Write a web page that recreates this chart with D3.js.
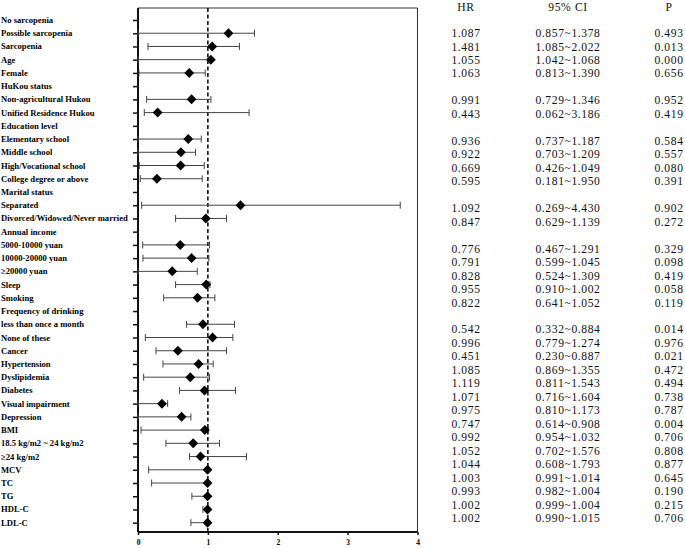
<!DOCTYPE html>
<html>
<head>
<meta charset="utf-8">
<script src="https://cdn.jsdelivr.net/npm/d3@7"></script>
<style>
  html, body { margin: 0; padding: 0; background: #fff; }
  svg { display: block; }
</style>
</head>
<body>
<svg id="chart" width="685" height="548"></svg>
<script>
// ---- Forest plot rows (as drawn) ----
const labels = [
  "No sarcopenia","Possible sarcopenia","Sarcopenia","Age","Female","HuKou status",
  "Non-agricultural Hukou","Unified Residence Hukou","Education level","Elementary school",
  "Middle school","High/Vocational school","College degree or above","Marital status",
  "Separated","Divorced/Widowed/Never married","Annual income","5000-10000 yuan",
  "10000-20000 yuan","≥20000 yuan","Sleep","Smoking","Frequency of drinking",
  "less than once a month","None of these","Cancer","Hypertension","Dyslipidemia",
  "Diabetes","Visual impairment","Depression","BMI","18.5 kg/m2 ~ 24 kg/m2","≥24 kg/m2",
  "MCV","TC","TG","HDL-C","LDL-C"
];
const pointEst = [
  null,1.295,1.062,1.043,0.733,null,
  0.767,0.281,null,0.719,
  0.614,0.610,0.271,null,
  1.467,0.971,null,0.605,
  0.767,0.490,0.976,0.852,null,
  0.929,1.067,0.571,0.867,0.748,
  0.952,0.343,0.624,0.957,0.790,0.895,
  0.995,0.995,0.995,0.995,0.995
];
const lowerCI = [
  null,0.0,0.143,0.0,0.014,null,
  0.124,0.090,null,0.0,
  0.0,0.019,0.033,null,
  0.052,0.538,null,0.067,
  0.071,0.0,0.538,0.367,null,
  0.695,0.105,0.257,0.357,0.081,
  0.595,0.0,0.0,0.043,0.400,0.738,
  0.152,0.195,0.771,0.929,0.757
];
const upperCI = [
  null,1.667,1.452,1.043,0.962,null,
  1.043,1.590,null,0.905,
  0.824,0.948,0.919,null,
  3.753,1.267,null,1.024,
  1.014,0.848,1.030,1.100,null,
  1.381,1.357,1.267,1.076,1.024,
  1.395,0.424,0.757,1.010,1.167,1.552,
  1.005,1.005,1.005,1.005,1.005
];
const xTicks = [0, 1, 2, 3, 4];
const refValue = 1;

// ---- Table on the right (blank lines = null) ----
const tableHeaders = ["HR", "95% CI", "P"];
const tabHR = [
  "1.087","1.481","1.055","1.063",null,"0.991","0.443",null,
  "0.936","0.922","0.669","0.595",null,"1.092","0.847",null,
  "0.776","0.791","0.828","0.955","0.822",null,
  "0.542","0.996","0.451","1.085","1.119","1.071","0.975","0.747",
  "0.992","1.052","1.044","1.003","0.993","1.002","1.002"
];
const tabCI = [
  "0.857~1.378","1.085~2.022","1.042~1.068","0.813~1.390",null,"0.729~1.346","0.062~3.186",null,
  "0.737~1.187","0.703~1.209","0.426~1.049","0.181~1.950",null,"0.269~4.430","0.629~1.139",null,
  "0.467~1.291","0.599~1.045","0.524~1.309","0.910~1.002","0.641~1.052",null,
  "0.332~0.884","0.779~1.274","0.230~0.887","0.869~1.355","0.811~1.543","0.716~1.604","0.810~1.173","0.614~0.908",
  "0.954~1.032","0.702~1.576","0.608~1.793","0.991~1.014","0.982~1.004","0.999~1.004","0.990~1.015"
];
const tabP = [
  "0.493","0.013","0.000","0.656",null,"0.952","0.419",null,
  "0.584","0.557","0.080","0.391",null,"0.902","0.272",null,
  "0.329","0.098","0.419","0.058","0.119",null,
  "0.014","0.976","0.021","0.472","0.494","0.738","0.787","0.004",
  "0.706","0.808","0.877","0.645","0.190","0.215","0.706"
];

// ---- Drawing ----
const svg = d3.select("#chart");
const plotLeft = 138, plotRight = 417.5, plotTop = 8, plotBottom = 532;

const x = d3.scaleLinear().domain([0, 4]).range([plotLeft, plotRight]);
const y = d3.scalePoint().domain(labels).range([20, 522.7]);

const rows = labels.map((l, i) => ({label: l, est: pointEst[i], lo: lowerCI[i], hi: upperCI[i]}));

// frame (top & right thin)
svg.append("path")
  .attr("d", `M${plotLeft},${plotTop}H${plotRight}V${plotBottom}`)
  .attr("fill", "none").attr("stroke", "#333").attr("stroke-width", 1);

// Y axis (left) with ticks
const yAxis = d3.axisLeft(y).tickSize(5).tickFormat("");
const gy = svg.append("g").attr("transform", `translate(${plotLeft},0)`).call(yAxis);
gy.select(".domain").attr("d", `M0,${plotTop}V${plotBottom}`).attr("stroke", "#111").attr("stroke-width", 2);
gy.selectAll(".tick line").attr("stroke", "#111").attr("stroke-width", 1.5);

// X axis
const xAxis = d3.axisBottom(x).tickValues(xTicks).tickSize(3).tickFormat(d3.format("d"));
const gx = svg.append("g").attr("transform", `translate(0,${plotBottom})`).call(xAxis);
gx.select(".domain").attr("d", `M${plotLeft},0H${plotRight}`).attr("stroke", "#111").attr("stroke-width", 2);
gx.selectAll(".tick line").attr("stroke", "#111").attr("stroke-width", 1.5);
gx.selectAll(".tick text")
  .attr("font-family", "'Liberation Serif', 'Times New Roman', serif")
  .attr("font-weight", "bold").attr("font-size", 7.5).attr("fill", "#000").attr("dy", "0.9em");

// Reference dashed line
svg.append("line")
  .attr("x1", x(refValue)).attr("x2", x(refValue))
  .attr("y1", plotTop).attr("y2", plotBottom)
  .attr("stroke", "#000").attr("stroke-width", 1.5).attr("stroke-dasharray", "4,2.5");

// Row labels
svg.append("g").selectAll("text").data(rows).join("text")
  .attr("x", 1).attr("y", d => y(d.label)).attr("dy", "0.35em")
  .attr("font-family", "'Liberation Serif', 'Times New Roman', serif")
  .attr("font-weight", "bold").attr("font-size", 8.6).attr("fill", "#000")
  .text(d => d.label);

// CI lines and caps
const est = rows.filter(d => d.est != null);
const capH = 3.5;
const ci = svg.append("g").attr("stroke", "#444").attr("stroke-width", 1).attr("fill", "none");
ci.selectAll("line.ci").data(est).join("line").attr("class", "ci")
  .attr("x1", d => x(d.lo)).attr("x2", d => x(d.hi))
  .attr("y1", d => y(d.label)).attr("y2", d => y(d.label));
ci.selectAll("line.lo").data(est).join("line").attr("class", "lo")
  .attr("x1", d => x(d.lo)).attr("x2", d => x(d.lo))
  .attr("y1", d => y(d.label) - capH).attr("y2", d => y(d.label) + capH);
ci.selectAll("line.hi").data(est).join("line").attr("class", "hi")
  .attr("x1", d => x(d.hi)).attr("x2", d => x(d.hi))
  .attr("y1", d => y(d.label) - capH).attr("y2", d => y(d.label) + capH);

// Diamonds
const hw = 4.9, hh = 5.0;
svg.append("g").selectAll("path").data(est).join("path")
  .attr("d", d => {
    const cx = x(d.est), cy = y(d.label);
    return `M${cx},${cy - hh}L${cx + hw},${cy}L${cx},${cy + hh}L${cx - hw},${cy}Z`;
  })
  .attr("fill", "#000");

// Table
const tableFont = "'Liberation Serif', 'Times New Roman', serif";
const colX = [466, 568, 669];
const ty = d3.scaleLinear().domain([0, tabHR.length - 1]).range([33, 518]);
const tbl = svg.append("g").attr("font-family", tableFont).attr("font-size", 11.6)
  .attr("letter-spacing", "0.6px")
  .attr("fill", "#111").attr("text-anchor", "middle");
tbl.selectAll("text.hdr").data(tableHeaders).join("text").attr("class", "hdr")
  .attr("x", (d, i) => colX[i]).attr("y", 7).attr("dy", "0.35em").text(d => d);
[tabHR, tabCI, tabP].forEach((col, ci) => {
  tbl.append("g").selectAll("text")
    .data(col.map((v, i) => ({v, i})).filter(d => d.v != null))
    .join("text")
    .attr("x", colX[ci]).attr("y", d => ty(d.i)).attr("dy", "0.35em")
    .text(d => d.v);
});
</script>
</body>
</html>
